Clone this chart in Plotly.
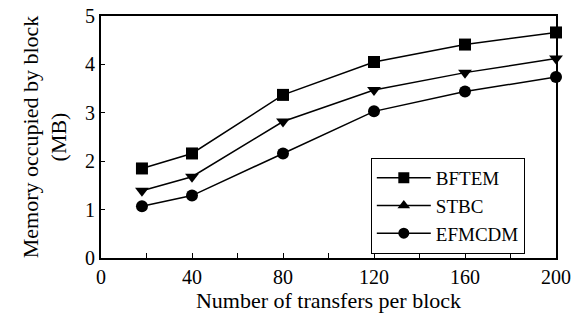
import plotly.graph_objects as go

x_vals = [18, 40, 80, 120, 160, 200]
bftem = [1.85, 2.16, 3.37, 4.05, 4.41, 4.66]
stbc = [1.39, 1.68, 2.82, 3.47, 3.83, 4.12]
efmcdm = [1.07, 1.29, 2.16, 3.03, 3.44, 3.74]

font_family = "Liberation Serif"
fig = go.Figure()

def add(name, y, sym, leg_sym):
    fig.add_trace(go.Scatter(x=x_vals, y=y, mode="lines+markers", name=name,
                             line=dict(color="black", width=1.5),
                             marker=dict(symbol=sym, size=12, color="black"),
                             showlegend=False, cliponaxis=False))
    fig.add_trace(go.Scatter(x=[None], y=[None], mode="lines+markers", name=name,
                             line=dict(color="black", width=1.5),
                             marker=dict(symbol=leg_sym, size=11, color="black")))

add("BFTEM", bftem, "square", "square")
add("STBC", stbc, "triangle-down", "triangle-up")
add("EFMCDM", efmcdm, "circle", "circle")

fig.update_layout(
    width=574, height=328,
    margin=dict(l=101, r=18, t=16, b=70, autoexpand=False),
    plot_bgcolor="white", paper_bgcolor="white",
    font=dict(family=font_family, size=20, color="black"),
    legend=dict(x=0.593, y=0.215, xanchor="left", yanchor="middle",
                bordercolor="black", borderwidth=1, bgcolor="white",
                font=dict(family=font_family, size=19), tracegroupgap=0, itemwidth=54),
    xaxis=dict(range=[0, 200], tickvals=[0, 40, 80, 120, 160, 200],
               ticks="inside", ticklen=5, tickcolor="black",
               minor=dict(dtick=20, tick0=0, ticks="inside", ticklen=5, tickcolor="black"),
               showline=True, linecolor="black", linewidth=2, mirror=True,
               showgrid=False, zeroline=False, automargin=False,
               title=dict(text="Number of transfers per block", standoff=6,
                          font=dict(family=font_family, size=22)),
               tickfont=dict(family=font_family, size=20)),
    yaxis=dict(range=[0, 5], dtick=1, ticks="inside", ticklen=4, tickcolor="black",
               showline=True, linecolor="black", linewidth=2, mirror=True,
               showgrid=False, zeroline=False, automargin=False,
               title=dict(text="Memory occupied by block<br>(MB)", standoff=12,
                          font=dict(family=font_family, size=22)),
               tickfont=dict(family=font_family, size=20)),
)

# remove the browser's default 8px page margin so the figure fills the window
fig.write_html("out.html", config={"displayModeBar": False},
               post_script="document.body.style.margin='0';")
